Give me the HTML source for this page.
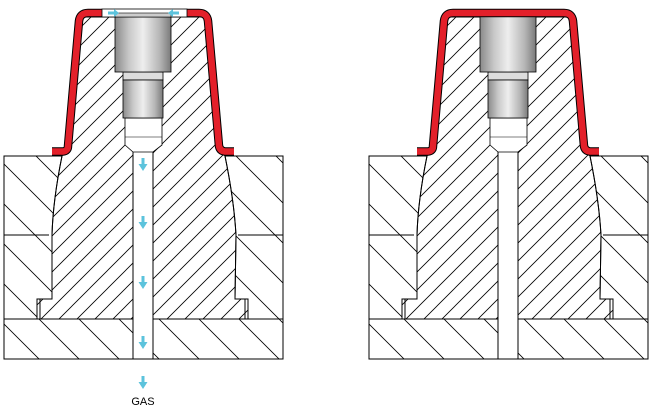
<!DOCTYPE html>
<html><head><style>html,body{margin:0;padding:0;background:#fff;width:652px;height:409px;overflow:hidden}</style></head>
<body>
<svg width="652" height="409" viewBox="0 0 652 409" xmlns="http://www.w3.org/2000/svg">
<defs>
<pattern id="hc" width="18" height="18" patternUnits="userSpaceOnUse">
<path d="M-1,19 L19,-1 M-10,10 L10,-10 M8,28 L28,8" stroke="#000" stroke-width="0.8"/>
</pattern>
<pattern id="ho" width="40" height="40" patternUnits="userSpaceOnUse">
<path d="M-1,-1 L41,41 M-21,19 L21,61 M19,-21 L61,21" stroke="#000" stroke-width="0.8"/>
</pattern>
<linearGradient id="pg" x1="0" x2="1" y1="0" y2="0">
<stop offset="0" stop-color="#8a8a8a"/><stop offset="0.25" stop-color="#c8c8c8"/>
<stop offset="0.5" stop-color="#eeeeee"/><stop offset="0.8" stop-color="#b5b5b5"/>
<stop offset="1" stop-color="#7a7a7a"/></linearGradient>
<g id="d">
<rect x="4" y="156" width="279" height="163" fill="url(#ho)" stroke="#000"/>
<rect x="4" y="319" width="279" height="40" fill="url(#ho)" stroke="#000"/>
<line x1="4" y1="235" x2="49" y2="235" stroke="#000"/>
<line x1="238" y1="235" x2="283" y2="235" stroke="#000"/>
<path d="M80,17 L206,17 L220,148 L225,156 Q234,200 236,235 L235,299 L248,299 L248,319 L37,319 L37,299 L52,299 L52,235 Q53,200 62,156 L66,148 Z" fill="#fff" stroke="#000"/>
<path d="M80,17 L206,17 L220,148 L225,156 Q234,200 236,235 L235,299 L248,299 L248,319 L37,319 L37,299 L52,299 L52,235 Q53,200 62,156 L66,148 Z" fill="url(#hc)" stroke="#000"/>
<line x1="40" y1="299" x2="40" y2="319" stroke="#000"/>
<line x1="245" y1="299" x2="245" y2="319" stroke="#000"/>
<rect x="133" y="150" width="20" height="209" fill="#fff" stroke="#000"/>
<path d="M125,118 L162,118 L162,145 L153,152 L133,152 L125,145 Z" fill="#fff" stroke="#000" stroke-width="0.8"/>
<line x1="125" y1="137" x2="162" y2="137" stroke="#000" stroke-width="0.6"/>
<rect x="123" y="72" width="40" height="8" fill="#ddd" stroke="#000" stroke-width="0.8"/>
<rect x="123" y="80" width="40" height="38" fill="url(#pg)" stroke="#000" stroke-width="0.8"/>
<rect x="115" y="14" width="56" height="58" fill="url(#pg)" stroke="#000" stroke-width="0.8"/>
</g>
</defs>
<use href="#d"/>
<use href="#d" x="365"/>
<path d="M52,151.5 L63,151.5 Q68,151 68,146 L79,21 Q80,13 88,13 L102,13 M187,13 L199,13 Q207,13 208,21 L219,146 Q220,151 225,151.5 L234,151.5" fill="none" stroke="#000" stroke-width="8.5"/>
<path d="M52,151.5 L63,151.5 Q68,151 68,146 L79,21 Q80,13 88,13 L102,13 M187,13 L199,13 Q207,13 208,21 L219,146 Q220,151 225,151.5 L234,151.5" fill="none" stroke="#e3202a" stroke-width="6.5"/>
<rect x="102" y="9" width="85" height="8" fill="#fff" stroke="#000" stroke-width="0.8"/>
<rect x="115" y="13" width="56" height="4" fill="#ccc" stroke="#000" stroke-width="0.6"/>
<g fill="#5cc3dc">
<path d="M108,11.5 L114,11.5 L114,9 L119,13 L114,17 L114,14.5 L108,14.5 Z"/>
<path d="M179,11.5 L173,11.5 L173,9 L168,13 L173,17 L173,14.5 L179,14.5 Z"/>
<g id="ar"><path d="M141.5,158 L144.5,158 L144.5,164 L147.5,164 L143,171 L138.5,164 L141.5,164 Z"/></g>
<use href="#ar" y="58"/><use href="#ar" y="118"/><use href="#ar" y="178"/><use href="#ar" y="218"/>
</g>
<text x="143" y="405" font-family="Liberation Sans, sans-serif" font-size="11" text-anchor="middle">GAS</text>
<path d="M417,151.5 L428,151.5 Q433,151 433,146 L444,21 Q445,13 453,13 L564,13 Q572,13 573,21 L584,146 Q585,151 590,151.5 L599,151.5" fill="none" stroke="#000" stroke-width="8.5"/>
<path d="M417,151.5 L428,151.5 Q433,151 433,146 L444,21 Q445,13 453,13 L564,13 Q572,13 573,21 L584,146 Q585,151 590,151.5 L599,151.5" fill="none" stroke="#e3202a" stroke-width="6.5"/>
</svg>
</body></html>
